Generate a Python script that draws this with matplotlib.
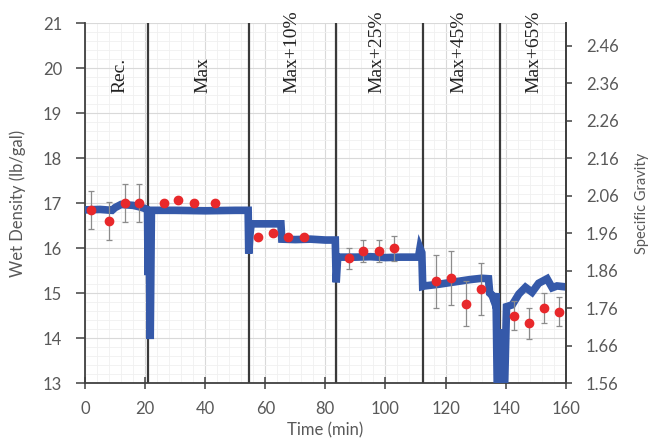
import matplotlib
matplotlib.use("Agg")
import matplotlib.pyplot as plt
from matplotlib.ticker import MultipleLocator, FormatStrFormatter

# measured wet density (red points) with error bars
pt_time = [1.9, 8.1, 13.3, 18.0, 26.2, 31.1, 36.2, 43.2, 57.6, 62.5, 67.6, 72.9,
           87.8, 92.6, 97.7, 102.7, 116.7, 121.7, 126.7, 131.7, 142.7, 147.7, 152.7, 157.7]
pt_density = [16.85, 16.6, 17.0, 17.0, 17.0, 17.08, 17.0, 17.0, 16.25, 16.33, 16.25, 16.25,
              15.77, 15.94, 15.94, 16.0, 15.26, 15.34, 14.76, 15.1, 14.5, 14.33, 14.67, 14.59]
pt_err = [0.42, 0.42, 0.43, 0.43, 0.0, 0.0, 0.0, 0.0, 0.0, 0.0, 0.0, 0.0,
          0.23, 0.25, 0.25, 0.28, 0.58, 0.6, 0.5, 0.58, 0.32, 0.35, 0.33, 0.33]

# logged density trace (blue line)
log_time = [0, 5, 9, 10, 12, 16, 18, 20, 20.8, 21.0, 21.3, 21.7, 22.1, 30, 40, 50, 54.3,
            54.5, 54.9, 55.3, 60, 65.2, 65.5, 70, 75, 80, 83.3, 83.6, 84.1, 90, 95, 100,
            105, 111.0, 111.5, 112.1, 112.4, 113, 118, 123, 128, 132, 134.3, 134.7,
            135.5, 136.3, 136.8, 137.3, 137.9, 138.5, 139.0, 139.5, 140.3, 142.2, 144.4,
            146.6, 148.8, 151, 153.8, 155.5, 157.1, 159.9]
log_density = [16.85, 16.86, 16.84, 16.9, 16.97, 16.95, 16.92, 16.88, 16.85, 15.4, 16.7,
               13.98, 16.84, 16.84, 16.83, 16.84, 16.84, 15.88, 16.3, 16.54, 16.54, 16.54,
               16.2, 16.19, 16.2, 16.18, 16.18, 15.24, 15.8, 15.8, 15.81, 15.79, 15.8,
               15.8, 16.0, 15.9, 15.15, 15.16, 15.2, 15.25, 15.3, 15.33, 15.32, 15.0,
               14.95, 14.8, 15.0, 12.5, 14.2, 12.5, 14.0, 12.5, 14.7, 14.74, 14.98, 15.13,
               15.02, 15.22, 15.32, 15.12, 15.16, 15.14]

# stage boundaries and labels
stage_edges = [21, 54.5, 83.5, 112.4, 138]
stage_names = ["Rec.", "Max", "Max+10%", "Max+25%", "Max+45%", "Max+65%"]
stage_label_x = [11.6, 39.2, 69, 97.3, 124.6, 149.5]

gray = "#595959"
plt.rcParams["font.family"] = ["Lato", "DejaVu Sans"]

fig = plt.figure(figsize=(6.54, 4.44), dpi=100)
ax = fig.add_axes([0.130, 0.137, 0.735, 0.811])

ax.set_xlim(0, 160)
ax.set_ylim(13, 21)
ax.xaxis.set_major_locator(MultipleLocator(20))
ax.xaxis.set_minor_locator(MultipleLocator(4))
ax.yaxis.set_major_locator(MultipleLocator(1))
ax.yaxis.set_minor_locator(MultipleLocator(0.2))
ax.grid(which="major", color="#d9d9d9", lw=0.8, zorder=0)
ax.grid(which="minor", color="#f0f0f0", lw=0.6, zorder=0)
ax.set_axisbelow(True)

for x in stage_edges:
    ax.axvline(x, color="#3a3a3a", lw=1.6, zorder=2)

ax.plot(log_time, log_density, color="#3559a9", lw=5.5, solid_joinstyle="miter", zorder=3)
ax.errorbar(pt_time, pt_density, yerr=pt_err, fmt="o", color="#e8282b", ms=6,
            ecolor="#8c8c8c", elinewidth=0.9, capsize=2.5, capthick=0.9, zorder=4)

for name, x in zip(stage_names, stage_label_x):
    ax.text(x, 19.45, name, rotation=90, ha="center", va="bottom",
            family="Liberation Serif", fontsize=14, color="#222222", zorder=5)

ax.spines["top"].set_visible(False)
for side in ["left", "right", "bottom"]:
    ax.spines[side].set_color("#404040")
    ax.spines[side].set_linewidth(1.3)

ax.tick_params(axis="x", which="major", direction="inout", length=8, width=1.1,
               color="#404040", labelcolor=gray, labelsize=12, pad=9)
ax.tick_params(axis="y", which="major", direction="out", length=6.5, width=1.1,
               color="#404040", labelcolor=gray, labelsize=12, pad=10)
ax.tick_params(which="minor", length=0)
ax.set_xlabel("Time (min)", color=gray, fontsize=12, labelpad=4)
ax.set_ylabel("Wet Density (lb/gal)", color=gray, fontsize=12, labelpad=12)

ax2 = ax.twinx()
ax2.set_ylim(13 / 8.33, 21 / 8.33)
ax2.set_yticks([1.56 + 0.1 * i for i in range(10)])
ax2.yaxis.set_major_formatter(FormatStrFormatter("%.2f"))
ax2.tick_params(direction="out", length=4.5, width=1.1, color="#404040",
                labelcolor=gray, labelsize=12, pad=10)
for side in ["top", "left", "bottom"]:
    ax2.spines[side].set_visible(False)
ax2.spines["right"].set_color("#404040")
ax2.spines["right"].set_linewidth(1.3)
ax2.set_ylabel("Specific Gravity", color=gray, fontsize=10.5, labelpad=12)

fig.savefig("out.png", dpi=100)
